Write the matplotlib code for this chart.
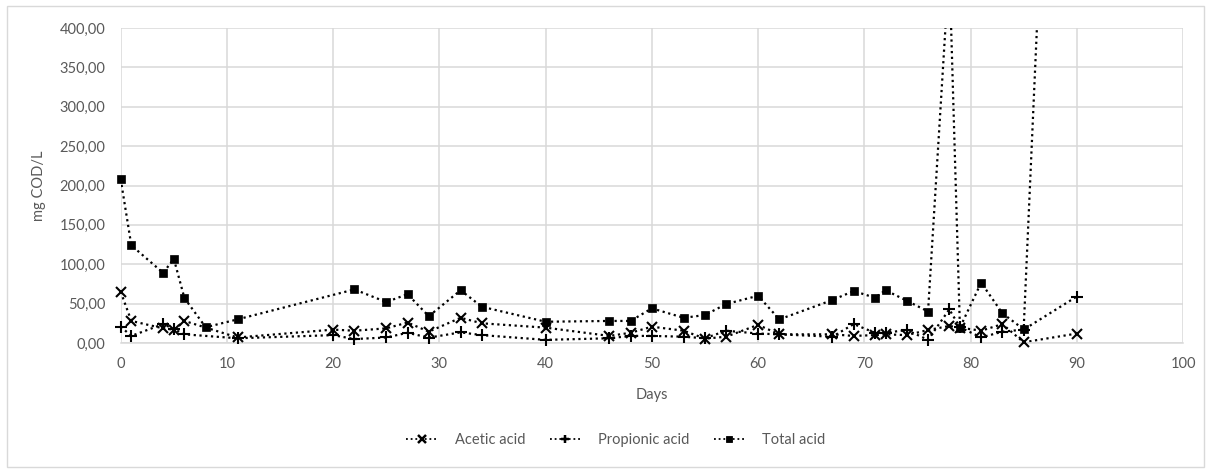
import matplotlib
matplotlib.use("Agg")
import matplotlib.pyplot as plt
from matplotlib.ticker import FuncFormatter, MultipleLocator
from matplotlib.patches import Rectangle
from matplotlib.lines import Line2D

plt.rcParams['font.family'] = ['Lato', 'DejaVu Sans']

# ---- data ----
days_acetic = [0, 1, 4, 5, 6, 11, 20, 22, 25, 27, 29, 32, 34, 40, 46, 48, 50, 53, 55, 57,
               60, 62, 67, 69, 71, 72, 74, 76, 78, 79, 81, 83, 85, 90]
acetic = [65, 28, 18.6, 17, 28, 7, 17, 15.6, 18.6, 26, 14.4, 32, 25, 19.5, 9, 13, 20.7, 15.6, 5.5, 8,
          23, 11, 11, 9, 10, 11, 10, 16.5, 21.6, 19.5, 15.6, 24, 0.9, 12]

days_propionic = days_acetic
propionic = [20.7, 9, 24, 17.8, 11, 6, 10, 5, 7, 13, 6.8, 13.5, 10, 4, 6, 9, 9, 8, 6, 15.6,
             12, 11, 8, 24, 13, 13, 16.5, 4, 42.7, 20, 7, 14.4, 17, 59]

days_total = [0, 1, 4, 5, 6, 8, 11, 22, 25, 27, 29, 32, 34, 40, 46, 48, 50, 53, 55, 57,
              60, 62, 67, 69, 71, 72, 74, 76, 78, 79, 81, 83, 85, 90]
total = [208, 124, 89, 107, 57, 20, 30, 68, 52, 62, 34, 67, 46, 27, 28, 28, 44, 32, 35.5, 49.5,
         60, 30, 54.6, 66, 57.5, 67, 53.7, 40, 480, 19.5, 76.6, 37.7, 17.4, 1550]

series_labels = ["Acetic acid", "Propionic acid", "Total acid"]
x_label = "Days"
y_label = "mg COD/L"

# ---- figure ----
W, H = 1211, 470
fig = plt.figure(figsize=(W / 100, H / 100), dpi=100)
fig.patch.set_facecolor("white")

fig.patches.append(Rectangle((7 / W, 3 / H), 1197 / W, 461 / H, transform=fig.transFigure,
                             fill=False, edgecolor="#d9d9d9", linewidth=1.0))

left, right, top, bottom = 120.7, 1183, 28, 343
ax = fig.add_axes([left / W, (H - bottom) / H, (right - left) / W, (bottom - top) / H])
YMAX = 400

ls = (0, (1, 1.6))
lw = 1.6
styles = [
    dict(marker="x", markersize=7, markeredgewidth=1.5),
    dict(marker="+", markersize=8, markeredgewidth=1.5),
    dict(marker="s", markersize=5.5, markeredgewidth=0.5),
]
handles = []
for (xs, ys), st, lab in zip([(days_acetic, acetic), (days_propionic, propionic), (days_total, total)],
                             styles, series_labels):
    ax.plot(xs, ys, color="black", linestyle=ls, linewidth=lw)
    vis = [(x, y) for x, y in zip(xs, ys) if y <= YMAX]
    ax.plot([v[0] for v in vis], [v[1] for v in vis], linestyle="none", color="black",
            clip_on=False, zorder=3, **st)
    handles.append(Line2D([], [], color="black", linestyle=ls, linewidth=1.3,
                          marker=st["marker"], markersize=st["markersize"] * 0.75,
                          markeredgewidth=st["markeredgewidth"] * 1.2))

ax.set_xlim(0, 100)
ax.set_ylim(0, YMAX)
ax.xaxis.set_major_locator(MultipleLocator(10))
ax.yaxis.set_major_locator(MultipleLocator(50))
ax.yaxis.set_major_formatter(FuncFormatter(lambda v, p: f"{v:.2f}".replace(".", ",")))

ax.grid(True, color="#d9d9d9", linewidth=1.1)
ax.set_axisbelow(True)
for s in ["top", "right", "left"]:
    ax.spines[s].set_visible(False)
ax.spines["bottom"].set_color("#d9d9d9")
ax.spines["bottom"].set_linewidth(1.1)

fs = 10.5
ax.tick_params(axis="both", length=0, labelsize=fs, labelcolor="#595959")
ax.tick_params(axis="x", pad=10)
ax.tick_params(axis="y", pad=11)

ax.set_xlabel(x_label, fontsize=fs, color="#595959", labelpad=12)
ax.set_ylabel(y_label, fontsize=fs, color="#595959", labelpad=10)

leg = fig.legend(handles, series_labels, loc="center", bbox_to_anchor=(616 / W, (H - 440) / H),
                 ncol=3, frameon=False, fontsize=fs, handlelength=2.1, numpoints=1,
                 columnspacing=1.7, handletextpad=1.2)
for t in leg.get_texts():
    t.set_color("#595959")

fig.savefig("out.png", dpi=100, facecolor="white")
